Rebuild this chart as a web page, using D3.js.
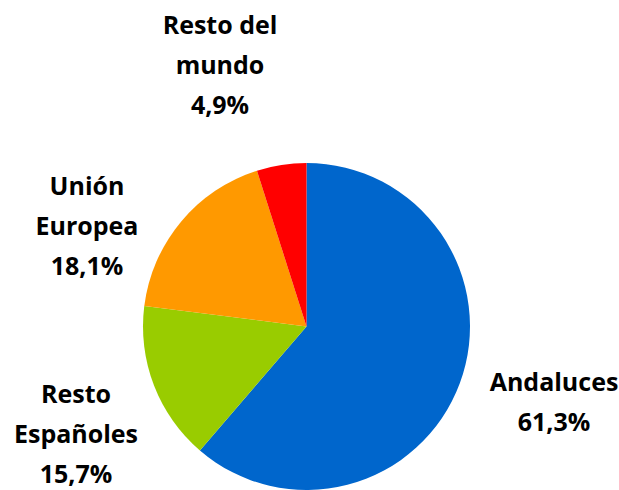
<!DOCTYPE html>
<html>
<head>
<meta charset="utf-8">
<script src="https://cdn.jsdelivr.net/npm/d3@7"></script>
<style>
    body { margin: 0; background: #fff; }
    .sliceLabel { font-family: "Open Sans", "Noto Sans", sans-serif; font-weight: bold; font-size: 25px; fill: #000; }
</style>
</head>
<body>
<div id="chart" style="width:619px;height:490px;"><svg width="619" height="490"></svg></div>
<script>

// categories and values (percent)
const categories = ["Andaluces", "Resto Españoles", "Unión Europea", "Resto del mundo"];
const values = [61.3, 15.7, 18.1, 4.9];
const labelLines = [["Andaluces"], ["Resto", "Españoles"], ["Unión", "Europea"], ["Resto del", "mundo"]];
const colors = ["#0066CC", "#99CC00", "#FF9900", "#FF0000"];

function makePie() {

    /**********************
    ***** BASIC SETUP *****
    **********************/

    const svg = d3.select("#chart").select("svg");
    const cx = 306.5;
    const cy = 326.5;
    const radius = 163.5;

    // label anchor (centre x, first baseline y)
    const labelPos = {
        "Andaluces": [554, 391],
        "Resto Españoles": [76, 403],
        "Unión Europea": [87, 195],
        "Resto del mundo": [220, 34]
    };
    const lineHeight = 40;

    const data = categories.map((c, i) => ({cat: c, value: values[i], lines: labelLines[i], color: colors[i]}));

    /***************
    ***** PIE ******
    ***************/

    const pie = d3.pie()
        .sort(null)
        .value(d => d.value);

    const arc = d3.arc()
        .innerRadius(0)
        .outerRadius(radius);

    const plot = svg.append("g")
        .attr("transform", `translate(${cx}, ${cy})`);

    plot.selectAll(".slice")
        .data(pie(data))
        .enter()
        .append("path")
        .attr("class", "slice")
        .attr("d", arc)
        .attr("fill", d => d.data.color);

    /*****************
    ***** LABELS *****
    *****************/

    const fmt = v => d3.format(".1f")(v).replace(".", ",") + "%";

    const labels = svg.selectAll(".sliceLabel")
        .data(data)
        .enter()
        .append("text")
        .attr("class", "sliceLabel")
        .attr("text-anchor", "middle");

    labels.each(function(d) {
        const pos = labelPos[d.cat];
        const t = d3.select(this);
        d.lines.concat([fmt(d.value)]).forEach((line, i) => {
            t.append("tspan")
                .attr("x", pos[0])
                .attr("y", pos[1] + i * lineHeight)
                .text(line);
        });
    });
}

makePie();
</script>
</body>
</html>
